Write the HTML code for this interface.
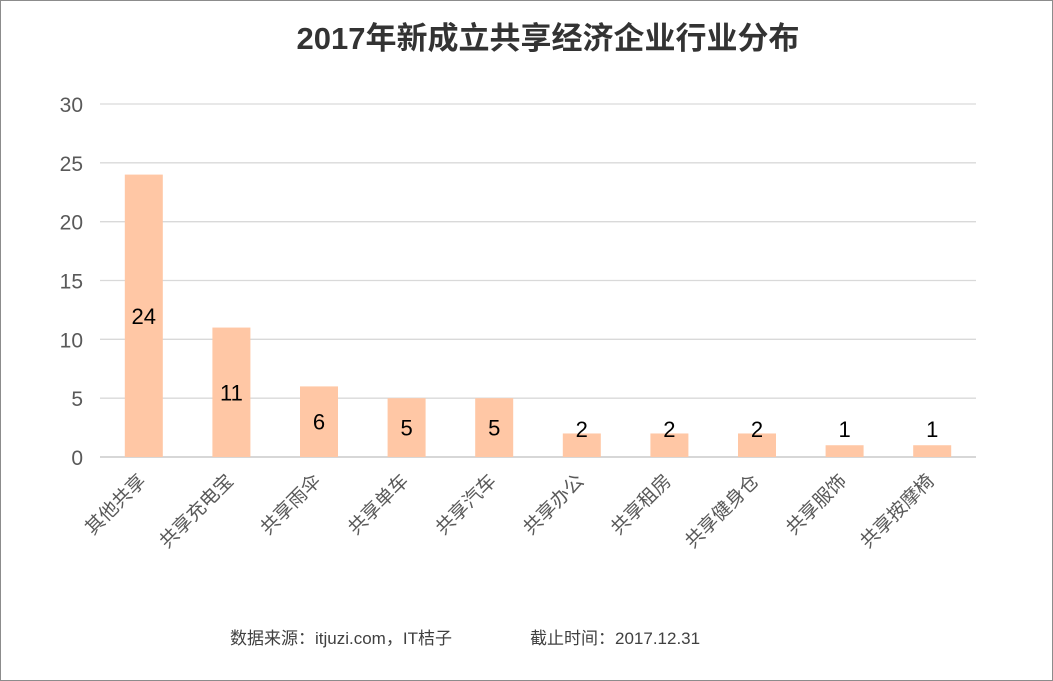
<!DOCTYPE html>
<html><head><meta charset="utf-8"><style>
body{margin:0;background:#fff;}
svg{display:block;font-family:"Liberation Sans","Noto Sans CJK SC",sans-serif;}
</style></head><body>
<svg id="chart" width="1053" height="681">
<rect x="0.5" y="0.5" width="1052" height="680" fill="#fff" stroke="#8c8c8c"/>
<text x="548" y="49" text-anchor="middle" font-size="31" font-weight="bold" fill="#333">2017年新成立共享经济企业行业分布</text>
<g id="grid"></g><g id="bars"></g>
<text x="230" y="644" font-size="17" fill="#404040">数据来源：itjuzi.com，IT桔子</text>
<text x="530" y="644" font-size="17" fill="#404040">截止时间：2017.12.31</text>
</svg>
<script>
const categories=["其他共享","共享充电宝","共享雨伞","共享单车","共享汽车","共享办公","共享租房","共享健身仓","共享服饰","共享按摩椅"];
const values=[24,11,6,5,5,2,2,2,1,1];
const ticks=[0,5,10,15,20,25,30];
const NS="http://www.w3.org/2000/svg";
const x0=100,x1=976,y0=457,y1=104,maxV=30;
const band=(x1-x0)/categories.length;
const yS=v=>y0-(v/maxV)*(y0-y1);
const xC=i=>x0+band*(i+0.5);
function mk(t,a,p){const e=document.createElementNS(NS,t);for(const k in a)e.setAttribute(k,a[k]);p.appendChild(e);return e;}
const g=document.getElementById('grid'),b=document.getElementById('bars');
ticks.forEach(t=>{
 const l=mk('line',{x1:x0,x2:x1,y1:yS(t),y2:yS(t),stroke:t===0?'#bfbfbf':'#d9d9d9','stroke-width':1.3},g);
 
 
 const tx=mk('text',{x:83,y:yS(t)+8,'text-anchor':'end','font-size':21,fill:'#595959'},g);
 tx.textContent=t;
 
 
});
categories.forEach((c,i)=>{
 const v=values[i],cx=xC(i),w=38;
 const r=mk('rect',{x:cx-w/2,y:yS(v),width:w,height:y0-yS(v),fill:'#ffc7a5'},b);
 
 
 const mid=Math.min((yS(v)+y0)/2,429);
 const lb=mk('text',{x:cx,y:mid+8,'text-anchor':'middle','font-size':22,fill:'#000'},b);
 lb.textContent=v;
 
 
 const xl=mk('text',{x:0,y:0,'text-anchor':'end','font-size':19,fill:'#595959',transform:`translate(${cx+3},${y0+25}) rotate(-45)`},b);
 xl.textContent=c;
 
 
});
</script>
</body></html>
